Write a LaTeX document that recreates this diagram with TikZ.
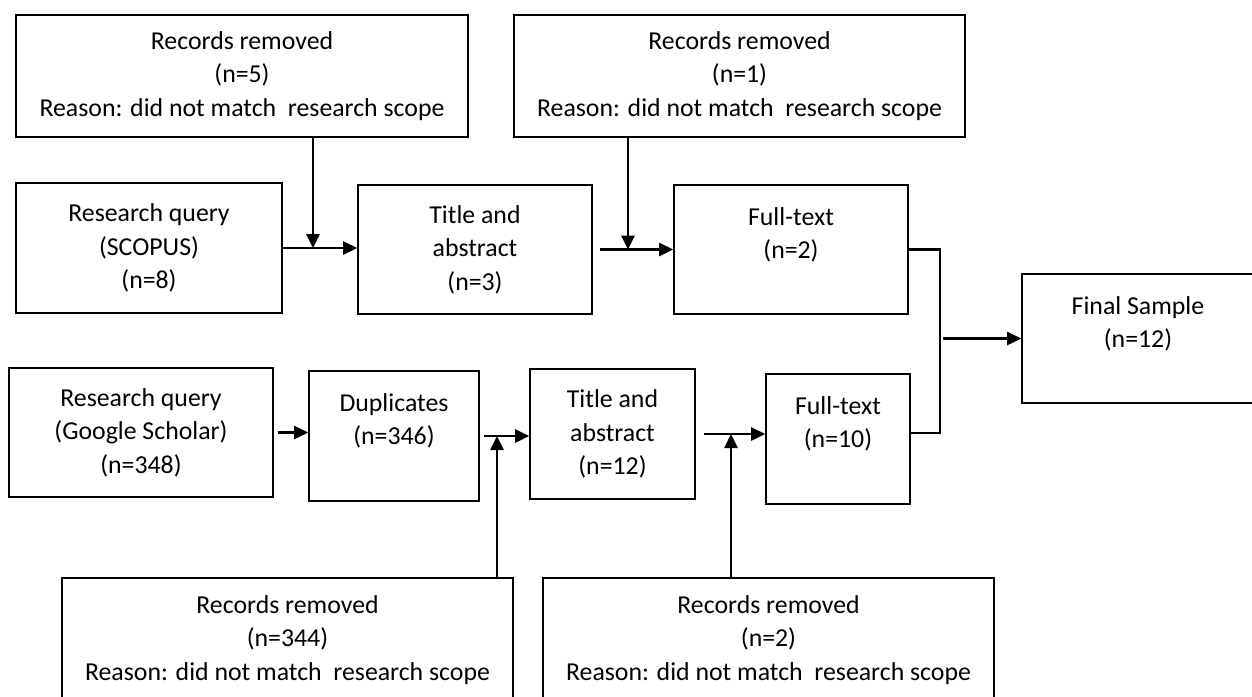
\documentclass[tikz,border=0pt]{standalone}
\usepackage{fontspec}
\setmainfont{Carlito}
\usetikzlibrary{arrows.meta,calc}

\begin{document}
\begin{tikzpicture}[x=0.5pt,y=-0.5pt,
  box/.style={draw,line width=0.8pt,align=center,inner sep=0pt,font=\fontsize{12.9}{16.7}\selectfont},
  link/.style={line width=1.3pt},
  flow/.style={link,-{Triangle[length=7pt,width=6.5pt]}}]
\useasboundingbox (0,0) rectangle (1252,696);
\node[box,minimum width=226pt,minimum height=61pt] (rmA) at (242,76) {Records removed\\(n=5)\\Reason: did not match\ \ research scope};
\node[box,minimum width=225.5pt,minimum height=61pt] (rmB) at (739.5,76) {Records removed\\(n=1)\\Reason: did not match\ \ research scope};
\node[box,minimum width=133pt,minimum height=65pt] (scopus) at (149,248) {Research query\\(SCOPUS)\\(n=8)};
\node[box,minimum width=117pt,minimum height=64.5pt] (titleA) at (475,249.5) {Title and\\abstract\\(n=3)};
\node[box,minimum width=117pt,minimum height=64.5pt] (fullA) at (791,249.5) {Full-text\\(n=2)\\~};
\node[box,minimum width=116pt,minimum height=64.5pt] (final) at (1138,338.5) {Final Sample\\(n=12)\\~};
\node[box,minimum width=132pt,minimum height=64.5pt] (google) at (141,432.5) {Research query\\(Google Scholar)\\(n=348)};
\node[box,minimum width=85pt,minimum height=65pt] (dup) at (394,436) {Duplicates\\(n=346)\\~};
\node[box,minimum width=82.5pt,minimum height=65pt] (titleB) at (612.5,434) {Title and\\abstract\\(n=12)};
\node[box,minimum width=72pt,minimum height=65pt] (fullB) at (838,439) {Full-text\\(n=10)\\~};
\node[box,minimum width=225.5pt,minimum height=62pt] (rmC) at (287.5,640) {Records removed\\(n=344)\\Reason: did not match\ \ research scope};
\node[box,minimum width=225.5pt,minimum height=62pt] (rmD) at (768.5,640) {Records removed\\(n=2)\\Reason: did not match\ \ research scope};
\coordinate (jA) at (313,248);
\coordinate (jB) at (628,249.5);
\coordinate (jC) at (497,436);
\coordinate (jD) at (731,434);
\coordinate (mA) at (940,249.5);
\coordinate (mB) at (940,433);
\draw[flow] (scopus.east) -- (scopus.east -| titleA.west);
\draw[flow] (rmA.south -| jA) -- (jA);
\draw[flow,shorten <=3.5pt] (titleA.east) -- (fullA.west);
\draw[flow] (rmB.south -| jB) -- (jB);
\draw[link] (fullA.east |- mA) -- (mA) -- (mB) -- (fullB.east |- mB);
\draw[flow,shorten <=1.5pt] (final.west -| mA) -- (final.west);
\draw[flow,shorten <=2pt] (google.east) -- (google.east -| dup.west);
\draw[flow,shorten <=2pt] (dup.east) -- (dup.east -| titleB.west);
\draw[flow] (rmC.north -| jC) -- (jC);
\draw[flow,shorten <=4pt] (titleB.east) -- (titleB.east -| fullB.west);
\draw[flow] (rmD.north -| jD) -- (jD);
\end{tikzpicture}
\end{document}
